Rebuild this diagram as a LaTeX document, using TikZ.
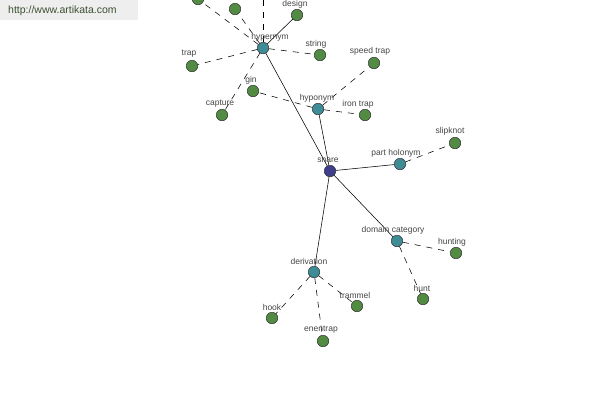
\documentclass[tikz,border=0pt]{standalone}
\usepackage{fontspec}
\setmainfont{Liberation Sans}
\definecolor{leafg}{RGB}{82,140,66}
\definecolor{midt}{RGB}{62,140,150}
\definecolor{rootb}{RGB}{62,62,140}
\definecolor{labg}{RGB}{70,70,70}
\definecolor{wmbg}{RGB}{238,238,238}
\definecolor{wmtx}{RGB}{60,80,50}
\begin{document}
\begin{tikzpicture}[x=1pt,y=-1pt,
  leaf/.style={circle,draw=black!80,line width=0.5pt,fill=leafg,minimum size=11.5pt,inner sep=0pt},
  mid/.style={circle,draw=black!80,line width=0.5pt,fill=midt,minimum size=11.5pt,inner sep=0pt},
  root/.style={circle,draw=black!80,line width=0.5pt,fill=rootb,minimum size=11.5pt,inner sep=0pt},
  lab/.style={font=\fontsize{8.5}{9.5}\selectfont,text=labg,inner sep=0pt},
  sol/.style={draw=black,line width=0.55pt},
  dsh/.style={draw=black,line width=0.55pt,dash pattern=on 6pt off 6pt}]
\useasboundingbox (0,0) rectangle (600,400);
\fill[white] (0,0) rectangle (600,400);
% nodes
\node[root] (snare) at (330,171) {};
\node[mid] (hyper) at (263,48) {};
\node[mid] (hypo) at (318,109) {};
\node[mid] (part) at (400,164) {};
\node[mid] (dom) at (397,241) {};
\node[mid] (deriv) at (314,272) {};
\node[leaf] (design) at (297,15) {};
\node[leaf] (string) at (320,55) {};
\node[leaf] (trap) at (192,66) {};
\node[leaf] (gin) at (253,91) {};
\node[leaf] (capture) at (222,115) {};
\node[leaf] (ua) at (235,9) {};
\node[leaf] (ub) at (198,-1) {};
\coordinate (uc) at (263,-30);
\node[leaf] (speed) at (374,63) {};
\node[leaf] (iron) at (365,115) {};
\node[leaf] (slip) at (455,143) {};
\node[leaf] (hunting) at (456,253) {};
\node[leaf] (hunt) at (423,299) {};
\node[leaf] (hook) at (272,318) {};
\node[leaf] (tram) at (357,306) {};
\node[leaf] (enen) at (323,341) {};
% edges
\draw[sol] (snare) -- (hyper);
\draw[sol] (snare) -- (hypo);
\draw[sol] (snare) -- (part);
\draw[sol] (snare) -- (dom);
\draw[sol] (snare) -- (deriv);
\draw[sol] (hyper) -- (design);
\draw[dsh] (hyper) -- (string);
\draw[dsh] (hyper) -- (trap);
\draw[dsh] (hyper) -- (capture);
\draw[dsh] (hyper) -- (ua);
\draw[dsh] (hyper) -- (ub);
\draw[dsh] (hyper) -- (uc);
\draw[dsh] (hypo) -- (gin);
\draw[dsh] (hypo) -- (speed);
\draw[dsh] (hypo) -- (iron);
\draw[dsh] (part) -- (slip);
\draw[dsh] (dom) -- (hunting);
\draw[dsh] (dom) -- (hunt);
\draw[dsh] (deriv) -- (hook);
\draw[dsh] (deriv) -- (tram);
\draw[dsh] (deriv) -- (enen);
% labels
\node[lab] (l1) at (270,37) {hypernym};
\node[lab] (l2) at (316,44) {string};
\node[lab] (l3) at (295,4) {design};
\node[lab] (l4) at (189,54) {trap};
\node[lab] (l5) at (251,80) {gin};
\node[lab] (l6) at (220,104) {capture};
\node[lab] (l7) at (317,98) {hyponym};
\node[lab] (l8) at (370,51) {speed trap};
\node[lab] (l9) at (358,104) {iron trap};
\node[lab] (l10) at (328,160) {snare};
\node[lab] (l11) at (396,153) {part holonym};
\node[lab] (l12) at (450,131) {slipknot};
\node[lab] (l13) at (393,230) {domain category};
\node[lab] (l14) at (452,242) {hunting};
\node[lab] (l15) at (422,288) {hunt};
\node[lab] (l16) at (309,261) {derivation};
\node[lab] (l17) at (272,307) {hook};
\node[lab] (l18) at (355,295) {trammel};
\node[lab] (l19) at (321,330) {enentrap};
% watermark
\fill[wmbg] (0,0) rectangle (138,20);
\node[font=\fontsize{10.5}{12}\selectfont,text=wmtx,anchor=west,inner sep=0pt] (wm) at (8,11) {http://www.artikata.com};
\end{tikzpicture}
\end{document}
